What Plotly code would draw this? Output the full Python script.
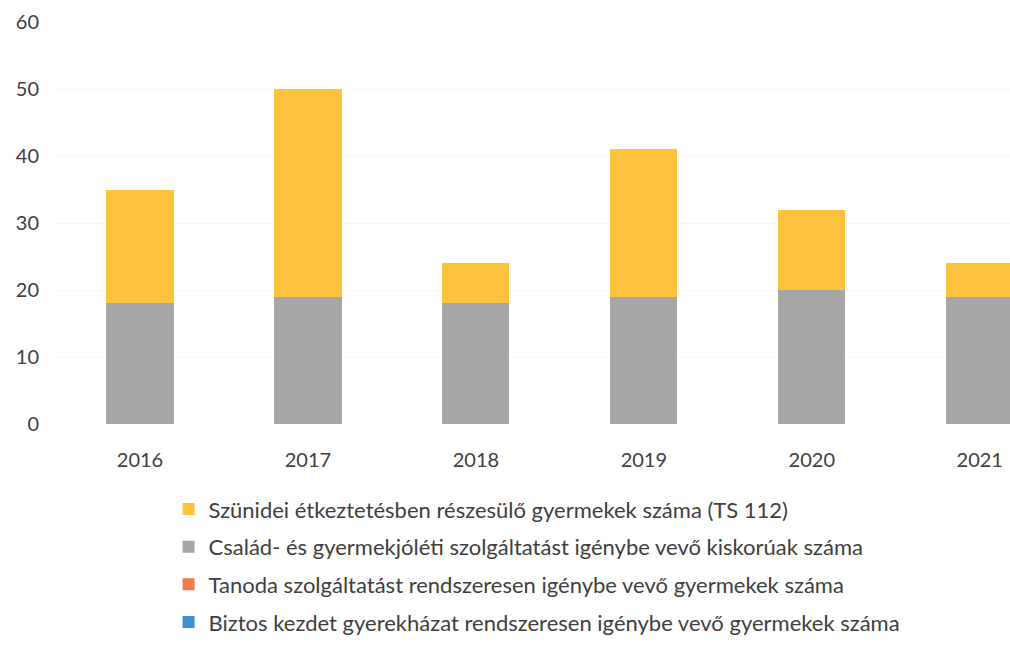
import plotly.graph_objects as go

years = ["2016", "2017", "2018", "2019", "2020", "2021"]

# series values per year (stack order: bottom to top)
biztos_kezdet = [0, 0, 0, 0, 0, 0]
tanoda = [0, 0, 0, 0, 0, 0]
csalad_gyermekjoleti = [18, 19, 18, 19, 20, 19]
szunidei_etkeztetes = [17, 31, 6, 22, 12, 5]

series = [
    ("Biztos kezdet gyerekházat rendszeresen igénybe vevő gyermekek száma", biztos_kezdet, "#3f8fd2"),
    ("Tanoda szolgáltatást rendszeresen igénybe vevő gyermekek száma", tanoda, "#ee7d4f"),
    ("Család- és gyermekjóléti szolgáltatást igénybe vevő kiskorúak száma", csalad_gyermekjoleti, "#a6a6a6"),
    ("Szünidei étkeztetésben részesülő gyermekek száma (TS 112)", szunidei_etkeztetes, "#fdc23e"),
]

FONT = "Lato, 'Open Sans', sans-serif"

fig = go.Figure()
n = len(series)
for i, (name, vals, color) in enumerate(series):
    fig.add_trace(go.Bar(
        x=years, y=vals, name=name,
        marker=dict(color=color, line=dict(width=0)),
        legendgroup=f"g{i}",
        legendrank=n - i,  # top of the stack listed first
    ))

fig.update_layout(
    width=1010, height=661,
    margin=dict(l=56, r=0, t=22, b=237),
    barmode="stack",
    bargap=0.6,
    plot_bgcolor="white", paper_bgcolor="white",
    font=dict(family=FONT, size=20, color="#404040"),
    showlegend=True,
    legend=dict(
        orientation="v", traceorder="grouped",
        x=0.118, xanchor="left", y=-0.16, yanchor="top",
        font=dict(size=22, color="#404040"),
        itemwidth=30, tracegroupgap=6,
        bgcolor="rgba(0,0,0,0)",
    ),
    xaxis=dict(
        type="category", range=[-0.5, 5.18],
        showgrid=False, showline=False, zeroline=False,
        ticks="", ticklabelstandoff=22,
        tickfont=dict(size=20, color="#404040"),
    ),
    yaxis=dict(
        range=[0, 60], dtick=10, tick0=0,
        showgrid=True, gridcolor="#f8f8f8", gridwidth=1,
        showline=False, zeroline=False,
        ticks="", ticklabelstandoff=16,
        tickfont=dict(size=20, color="#404040"),
    ),
)

fig.write_html("out.html")
